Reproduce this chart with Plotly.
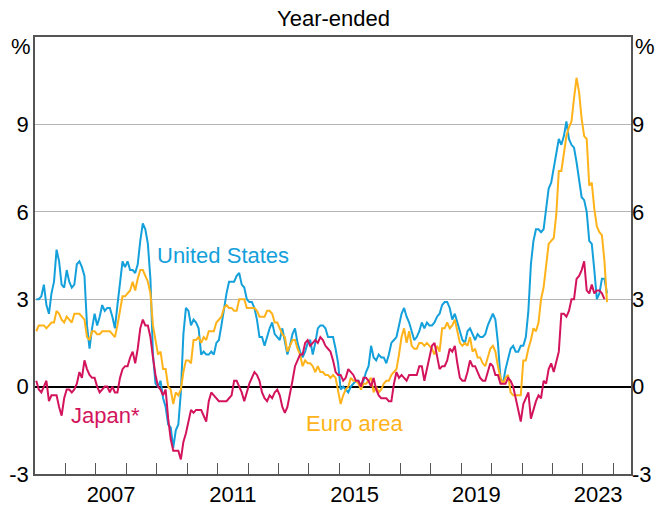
import plotly.graph_objects as go

start_year = 2005
us_cpi = [
    3.0, 3.0, 3.1, 3.5, 2.8, 2.5, 3.2, 3.6, 4.7, 4.3, 3.5, 3.4,
    4.0, 3.6, 3.4, 3.5, 4.2, 4.3, 4.1, 3.8, 2.1, 1.3, 2.0, 2.5,
    2.1, 2.4, 2.8, 2.6, 2.7, 2.7, 2.4, 2.0, 2.8, 3.5, 4.3, 4.1,
    4.3, 4.0, 4.0, 3.9, 4.2, 5.0, 5.6, 5.4, 4.9, 3.7, 1.1, 0.1,
    0.0, 0.2, -0.4, -0.7, -1.3, -1.4, -2.1, -1.5, -1.3, -0.2, 1.8, 2.7,
    2.6, 2.1, 2.3, 2.2, 2.0, 1.1, 1.2, 1.1, 1.1, 1.2, 1.1, 1.5,
    1.6, 2.1, 2.7, 3.2, 3.6, 3.6, 3.6, 3.8, 3.9, 3.5, 3.4, 3.0,
    2.9, 2.9, 2.7, 2.3, 1.7, 1.7, 1.4, 1.7, 2.0, 2.2, 1.8, 1.7,
    1.6, 2.0, 1.5, 1.1, 1.4, 1.8, 2.0, 1.5, 1.2, 1.0, 1.2, 1.5,
    1.6, 1.1, 1.5, 2.0, 2.1, 2.1, 2.0, 1.7, 1.7, 1.7, 1.3, 0.8,
    -0.1, 0.0, -0.1, -0.2, 0.0, 0.1, 0.2, 0.2, 0.0, 0.2, 0.5, 0.7,
    1.4, 1.0, 0.9, 1.1, 1.0, 1.0, 0.8, 1.1, 1.5, 1.6, 1.7, 2.1,
    2.5, 2.7, 2.4, 2.2, 1.9, 1.6, 1.7, 1.9, 2.2, 2.0, 2.2, 2.1,
    2.1, 2.2, 2.4, 2.5, 2.8, 2.9, 2.9, 2.7, 2.3, 2.5, 2.2, 1.9,
    1.6, 1.5, 1.9, 2.0, 1.8, 1.6, 1.8, 1.7, 1.7, 1.8, 2.1, 2.3,
    2.5, 2.3, 1.5, 0.3, 0.1, 0.6, 1.0, 1.3, 1.4, 1.2, 1.2, 1.4,
    1.4, 1.7, 2.6, 4.2, 5.0, 5.4, 5.4, 5.3, 5.4, 6.2, 6.8, 7.0,
    7.5, 7.9, 8.5, 8.3, 8.6, 9.1, 8.5, 8.3, 8.2, 7.7, 7.1, 6.5,
    6.4, 6.0, 5.0, 4.9, 4.0, 3.0, 3.2, 3.7, 3.7, 3.2,
]
euro_cpi = [
    1.9, 2.1, 2.1, 2.1, 2.0, 2.1, 2.2, 2.2, 2.6, 2.5, 2.3, 2.2,
    2.4, 2.3, 2.2, 2.5, 2.5, 2.5, 2.4, 2.3, 1.7, 1.6, 1.9, 1.9,
    1.8, 1.8, 1.9, 1.9, 1.9, 1.9, 1.8, 1.7, 2.1, 2.6, 3.1, 3.1,
    3.2, 3.3, 3.6, 3.3, 3.7, 4.0, 4.0, 3.8, 3.6, 3.2, 2.1, 1.6,
    1.1, 1.2, 0.6, 0.6, 0.0, -0.1, -0.6, -0.2, -0.3, -0.1, 0.5, 0.9,
    0.9, 0.8, 1.6, 1.6, 1.7, 1.5, 1.7, 1.6, 1.9, 1.9, 1.9, 2.2,
    2.3, 2.4, 2.7, 2.8, 2.7, 2.7, 2.6, 2.6, 3.0, 3.0, 3.0, 2.7,
    2.7, 2.7, 2.7, 2.6, 2.4, 2.4, 2.4, 2.6, 2.6, 2.5, 2.2, 2.2,
    2.0, 1.8, 1.7, 1.2, 1.4, 1.6, 1.6, 1.3, 1.1, 0.7, 0.9, 0.8,
    0.8, 0.7, 0.5, 0.7, 0.5, 0.5, 0.4, 0.4, 0.3, 0.4, 0.3, -0.2,
    -0.6, -0.3, -0.1, 0.0, 0.3, 0.2, 0.2, 0.1, -0.1, 0.1, 0.1, 0.2,
    0.3, -0.2, 0.0, -0.2, -0.1, 0.1, 0.2, 0.2, 0.4, 0.5, 0.6, 1.1,
    1.7, 2.0, 1.5, 1.9, 1.4, 1.3, 1.3, 1.5, 1.5, 1.4, 1.5, 1.4,
    1.3, 1.1, 1.4, 1.2, 2.0, 2.0, 2.2, 2.0, 2.1, 2.3, 1.9, 1.5,
    1.4, 1.5, 1.4, 1.7, 1.2, 1.3, 1.0, 1.0, 0.8, 0.7, 1.0, 1.3,
    1.4, 1.2, 0.7, 0.3, 0.1, 0.3, 0.4, -0.2, -0.3, -0.3, -0.3, -0.3,
    0.9, 0.9, 1.3, 1.6, 2.0, 1.9, 2.2, 3.0, 3.4, 4.1, 4.9, 5.0,
    5.1, 5.9, 7.4, 7.4, 8.1, 8.6, 8.9, 9.1, 9.9, 10.6, 10.1, 9.2,
    8.6, 8.5, 6.9, 7.0, 6.1, 5.5, 5.3, 5.2, 4.3, 2.9,
]
japan_cpi = [
    0.2, -0.1, -0.2, 0.0, 0.2, -0.5, -0.3, -0.3, -0.3, -0.7, -1.0, -0.4,
    -0.1, -0.1, -0.2, -0.1, 0.1, 0.5, 0.3, 0.9, 0.6, 0.4, 0.3, 0.3,
    0.0, -0.2, -0.1, 0.0, 0.0, -0.2, 0.0, -0.2, -0.2, 0.3, 0.6, 0.7,
    0.7, 1.0, 1.2, 0.8, 1.3, 2.0, 2.3, 2.1, 2.1, 1.7, 1.0, 0.4,
    0.0, -0.1, -0.3, -0.1, -1.1, -1.8, -2.2, -2.2, -2.2, -2.5, -1.9, -1.6,
    -1.2, -0.8, -0.9, -0.8, -0.8, -0.8, -1.0, -1.2, -0.5, -0.2, -0.3, -0.4,
    -0.5, -0.5, -0.5, -0.5, -0.4, -0.3, 0.2, 0.2, 0.0, -0.2, -0.5, -0.2,
    0.1, 0.3, 0.5, 0.4, 0.2, -0.2, -0.4, -0.5, -0.3, -0.4, -0.2, -0.1,
    -0.3, -0.7, -0.9, -0.7, -0.3, 0.2, 0.7, 0.9, 1.1, 1.1, 1.5, 1.6,
    1.4, 1.5, 1.6, 1.5, 1.7, 1.6, 1.4, 1.3, 1.2, 0.9, 0.5, 0.4,
    0.4, 0.2, 0.3, 0.6, 0.5, 0.4, 0.2, 0.2, 0.0, 0.3, 0.3, 0.2,
    0.0, 0.3, -0.1, -0.3, -0.4, -0.4, -0.4, -0.5, -0.5, 0.1, 0.5, 0.3,
    0.4, 0.3, 0.2, 0.4, 0.4, 0.4, 0.4, 0.7, 0.7, 0.2, 0.6, 1.0,
    1.4, 1.5, 1.1, 0.6, 0.7, 0.7, 0.9, 1.3, 1.2, 1.4, 0.8, 0.3,
    0.2, 0.2, 0.5, 0.9, 0.7, 0.7, 0.5, 0.3, 0.2, 0.2, 0.5, 0.8,
    0.7, 0.4, 0.4, 0.1, 0.1, 0.1, 0.3, 0.2, 0.0, -0.4, -0.9, -1.2,
    -0.6, -0.4, -0.2, -1.1, -0.8, -0.5, -0.3, -0.4, 0.2, 0.1, 0.6, 0.8,
    0.5, 0.9, 1.2, 2.5, 2.5, 2.4, 2.6, 3.0, 3.0, 3.7, 3.8, 4.0,
    4.3, 3.3, 3.2, 3.5, 3.2, 3.3, 3.3, 3.2, 3.0,
]
label_years = [2007, 2011, 2015, 2019, 2023]
y_ticks = [-3, 0, 3, 6, 9]

US_C = "#14A0DB"
EU_C = "#FFB31A"
JP_C = "#D3145D"
FRAME = "#555555"
FONT = "Liberation Sans, Arial, sans-serif"
FS = 22


def months(n):
    return [start_year + (i + 0.5) / 12 for i in range(n)]


fig = go.Figure()
for vals, col in [(us_cpi, US_C), (euro_cpi, EU_C), (japan_cpi, JP_C)]:
    fig.add_trace(go.Scatter(x=months(len(vals)), y=vals, mode="lines",
                             line=dict(color=col, width=2), showlegend=False,
                             hoverinfo="skip"))
# invisible trace to activate right-hand axis
fig.add_trace(go.Scatter(x=[start_year], y=[0], yaxis="y2", mode="markers",
                         marker=dict(opacity=0), showlegend=False, hoverinfo="skip"))

x_end = 2024.58
fig.update_layout(
    width=657, height=507,
    margin=dict(l=35, r=26, t=37, b=33, autoexpand=False),
    paper_bgcolor="white", plot_bgcolor="white",
    font=dict(family=FONT, size=FS, color="black"),
    xaxis=dict(
        range=[start_year, x_end], automargin=False,
        tickvals=[y + 0.5 for y in label_years],
        ticktext=[str(y) for y in label_years],
        ticks="", showgrid=False, zeroline=False,
        showline=True, linecolor=FRAME, linewidth=1.5, mirror=True,
        tickfont=dict(size=FS),
        minor=dict(tickmode="array", tickvals=list(range(start_year + 1, 2025)),
                   ticks="inside", ticklen=11, tickwidth=1.2, tickcolor=FRAME,
                   showgrid=False),
    ),
    yaxis=dict(
        range=[-3, 12], tickvals=y_ticks, ticktext=[str(v) for v in y_ticks],
        automargin=False,
        ticks="", showgrid=True, gridcolor="#b5b5b5", gridwidth=1,
        zeroline=True, zerolinecolor="black", zerolinewidth=1.5,
        showline=True, linecolor=FRAME, linewidth=1.5, mirror=True,
        tickfont=dict(size=FS),
    ),
    yaxis2=dict(
        range=[-3, 12], tickvals=y_ticks, ticktext=[str(v) for v in y_ticks],
        automargin=False,
        overlaying="y", side="right", ticks="", showgrid=False, zeroline=False,
        showline=False, tickfont=dict(size=FS),
    ),
    annotations=[
        dict(text="Year-ended", xref="paper", yref="paper", x=0.5, y=1,
             yshift=4, xanchor="center", yanchor="bottom", showarrow=False,
             font=dict(size=FS)),
        dict(text="%", xref="paper", yref="y", x=0, y=12, xshift=-2,
             xanchor="right", yanchor="top", yshift=5, showarrow=False,
             font=dict(size=FS)),
        dict(text="%", xref="paper", yref="y", x=1, y=12, xshift=2,
             xanchor="left", yanchor="top", yshift=5, showarrow=False,
             font=dict(size=FS)),
        dict(text="United States", x=2008.94, y=4.5, xanchor="left",
             yanchor="middle", showarrow=False, font=dict(size=FS, color=US_C)),
        dict(text="Japan*", x=2006.12, y=-1.0, xanchor="left",
             yanchor="middle", showarrow=False, font=dict(size=FS, color=JP_C)),
        dict(text="Euro area", x=2013.85, y=-1.25, xanchor="left",
             yanchor="middle", showarrow=False, font=dict(size=FS, color=EU_C)),
    ],
)

fig.write_html("out.html", config={"displayModeBar": False},
               post_script="document.body.style.margin='0';document.body.style.overflow='hidden';")
